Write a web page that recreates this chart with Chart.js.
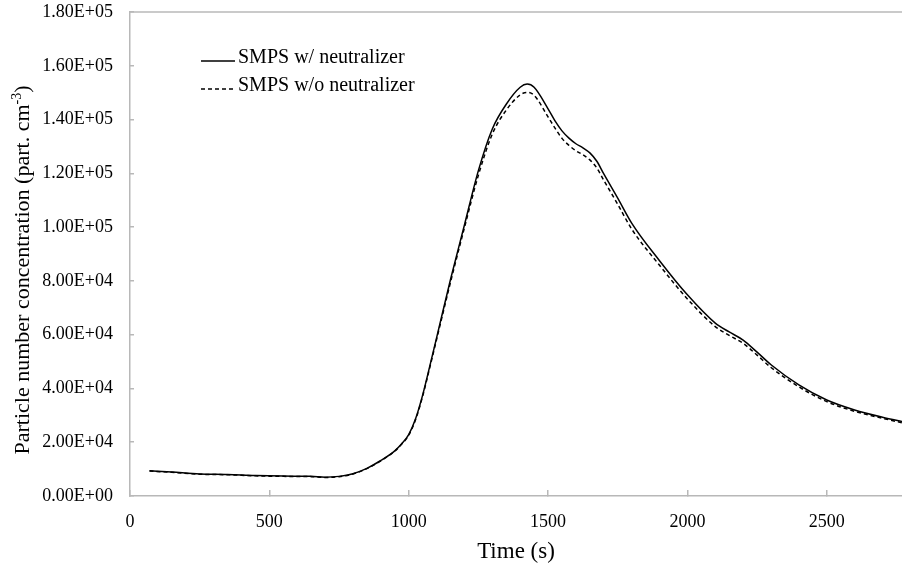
<!DOCTYPE html>
<html>
<head>
<meta charset="utf-8">
<script src="https://cdn.jsdelivr.net/npm/chart.js@4.4.1/dist/chart.umd.min.js"></script>
<style>
  html, body { margin: 0; padding: 0; background: #fff; }
  #wrap { width: 902px; height: 570px; }
</style>
</head>
<body>
<div id="wrap"><canvas id="chart" width="902" height="570"></canvas></div>
<script>
const TIME = [70, 150, 250, 350, 450, 550, 650, 700, 750, 800, 850, 900, 950, 975, 1000, 1025, 1050, 1075, 1100, 1150, 1200, 1250, 1300, 1350, 1400, 1425, 1450, 1500, 1525, 1550, 1575, 1600, 1625, 1650, 1675, 1700, 1750, 1800, 1900, 2000, 2100, 2150, 2200, 2250, 2300, 2400, 2500, 2600, 2700, 2780];
const WITH_NEUTRALIZER = [9400, 8900, 8200, 8000, 7600, 7400, 7300, 7000, 7300, 8300, 10300, 13200, 16800, 19400, 22800, 28800, 37500, 48000, 58800, 80500, 100800, 121000, 136500, 145700, 152000, 153200, 152000, 144000, 139500, 135800, 133100, 131000, 129500, 127600, 124500, 119800, 110800, 101500, 87500, 74800, 64300, 61000, 58000, 53500, 48800, 41300, 35700, 32000, 29300, 27500];
const WITHOUT_NEUTRALIZER = [9300, 8800, 8100, 7900, 7500, 7300, 7200, 6900, 7200, 8200, 10200, 13100, 16700, 19300, 22600, 28500, 37100, 47500, 58200, 79500, 99800, 119300, 134600, 143500, 149200, 150100, 149000, 141000, 136800, 133000, 130400, 128400, 126900, 125000, 122000, 117400, 108500, 99300, 85800, 73300, 63000, 59700, 56800, 52400, 47800, 40600, 35100, 31500, 28900, 27000];
const SERIES_LABELS = ["SMPS w/ neutralizer", "SMPS w/o neutralizer"];
const X_TICKS = [0, 500, 1000, 1500, 2000, 2500];
const Y_TICKS = [0, 20000, 40000, 60000, 80000, 100000, 120000, 140000, 160000, 180000];
const X_TITLE = "Time (s)";
const Y_TITLE = ["Particle number concentration (part. cm", "-3", ")"];

const SERIF = "'Liberation Serif', 'Times New Roman', serif";
const AXIS_GREY = "#b8b8b8";

function sci(v) {
  if (v === 0) return "0.00E+00";
  const e = Math.floor(Math.log10(v));
  const m = v / Math.pow(10, e);
  return m.toFixed(2) + "E+" + String(e).padStart(2, "0");
}

const toPoints = (ys) => TIME.map((t, i) => ({ x: t, y: ys[i] }));

// frame top line, legend and the y title with a superscript
const extras = {
  id: "extras",
  afterDraw(chart) {
    const { ctx, chartArea } = chart;
    ctx.save();
    ctx.strokeStyle = AXIS_GREY;
    ctx.lineWidth = 1.5;
    ctx.beginPath();
    ctx.moveTo(chartArea.left, chartArea.top);
    ctx.lineTo(chartArea.right, chartArea.top);
    ctx.stroke();

    // legend
    ctx.font = "20px " + SERIF;
    ctx.fillStyle = "#000";
    ctx.textBaseline = "alphabetic";
    chart.data.datasets.forEach((ds, i) => {
      const y = 61 + i * 28;
      ctx.strokeStyle = "#000";
      ctx.lineWidth = 1.5;
      ctx.setLineDash(ds.borderDash || []);
      ctx.beginPath();
      ctx.moveTo(201, y);
      ctx.lineTo(235, y);
      ctx.stroke();
      ctx.setLineDash([]);
      ctx.fillText(ds.label, 238, y + 2);
    });

    // y axis title
    const big = "22px " + SERIF, small = "14px " + SERIF;
    ctx.font = big;
    const w1 = ctx.measureText(Y_TITLE[0]).width;
    const w3 = ctx.measureText(Y_TITLE[2]).width;
    ctx.font = small;
    const w2 = ctx.measureText(Y_TITLE[1]).width;
    const total = w1 + w2 + w3;
    ctx.translate(29, 270);
    ctx.rotate(-Math.PI / 2);
    let x = -total / 2;
    ctx.font = big;
    ctx.fillText(Y_TITLE[0], x, 0);
    x += w1;
    ctx.font = small;
    ctx.fillText(Y_TITLE[1], x, -8);
    x += w2;
    ctx.font = big;
    ctx.fillText(Y_TITLE[2], x, 0);
    ctx.restore();
  }
};

new Chart(document.getElementById("chart").getContext("2d"), {
  type: "line",
  data: {
    datasets: [
      { label: SERIES_LABELS[0], data: toPoints(WITH_NEUTRALIZER), borderColor: "#000", borderWidth: 1.5, pointRadius: 0, cubicInterpolationMode: "monotone" },
      { label: SERIES_LABELS[1], data: toPoints(WITHOUT_NEUTRALIZER), borderColor: "#000", borderWidth: 1.5, borderDash: [4, 3], pointRadius: 0, cubicInterpolationMode: "monotone" }
    ]
  },
  options: {
    responsive: false,
    animation: false,
    layout: { padding: { top: 12, left: 0, right: 0, bottom: 0 } },
    plugins: { legend: { display: false }, tooltip: { enabled: false } },
    scales: {
      x: {
        type: "linear",
        min: 0,
        max: 2770,
        afterBuildTicks: (s) => { s.ticks = X_TICKS.map(v => ({ value: v })); },
        afterFit: (s) => { s.height = 74; s.paddingLeft = 0; s.paddingRight = 0; },
        grid: { drawOnChartArea: false, drawTicks: true, tickLength: -6, color: AXIS_GREY, lineWidth: 1.5 },
        border: { color: AXIS_GREY, width: 1.5 },
        ticks: { padding: 21, color: "#000", font: { family: SERIF, size: 18 }, maxRotation: 0, callback: (v) => String(v) },
        title: { display: true, text: X_TITLE, color: "#000", font: { family: SERIF, size: 23 }, padding: { top: 0, bottom: 4 } }
      },
      y: {
        min: 0,
        max: 180000,
        afterBuildTicks: (s) => { s.ticks = Y_TICKS.map(v => ({ value: v })); },
        afterFit: (s) => { s.width = 130; s.paddingTop = 0; s.paddingBottom = 0; },
        grid: { drawOnChartArea: false, drawTicks: true, tickLength: -4, color: AXIS_GREY, lineWidth: 1.5 },
        border: { color: AXIS_GREY, width: 1.5 },
        ticks: { padding: 21, color: "#000", font: { family: SERIF, size: 18 }, callback: (v) => sci(v) }
      }
    }
  },
  plugins: [extras]
});
</script>
</body>
</html>
